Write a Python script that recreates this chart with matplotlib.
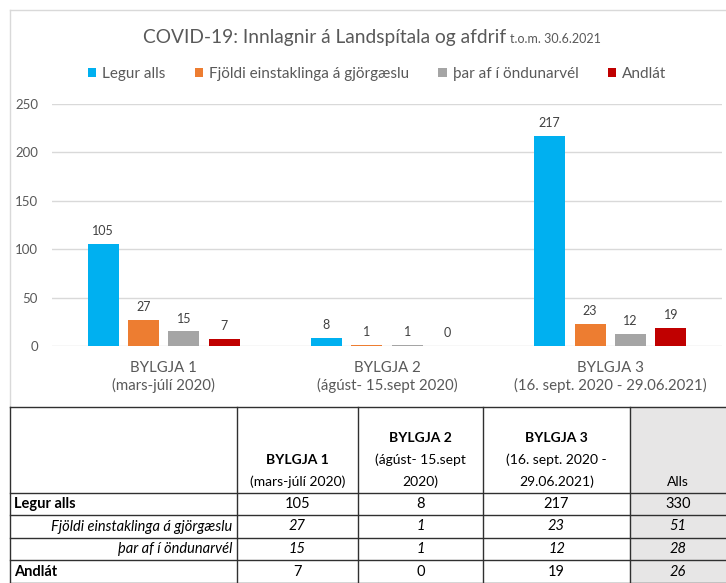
import matplotlib.pyplot as plt
import numpy as np
from matplotlib.patches import Rectangle

plt.rcParams['font.family'] = ['Lato', 'DejaVu Sans']

# Gögn
bylgjur = ['BYLGJA 1\n(mars-júlí 2020)',
           'BYLGJA 2\n(ágúst- 15.sept 2020)',
           'BYLGJA 3\n(16. sept. 2020 - 29.06.2021)']
legur = [105, 8, 217]
gjorgaesla = [27, 1, 23]
ondunarvel = [15, 1, 12]
andlat = [7, 0, 19]

heiti = ['Legur alls', 'Fjöldi einstaklinga á gjörgæslu', 'þar af í öndunarvél', 'Andlát']
litir = ['#00b0f0', '#ed7d31', '#a5a5a5', '#c00000']

tafla_haus = ['', 'BYLGJA 1\n(mars-júlí 2020)', 'BYLGJA 2\n(ágúst- 15.sept\n2020)',
              'BYLGJA 3\n(16. sept. 2020 -\n29.06.2021)', 'Alls']

W, H = 726, 583
fig = plt.figure(figsize=(W / 100, H / 100), dpi=100)

# yfirlag í pixlahnitum fyrir ramma, titil og töflu
ov = fig.add_axes([0, 0, 1, 1], zorder=-1)
ov.set_xlim(0, W)
ov.set_ylim(H, 0)
ov.axis('off')

# súlurit
ax = fig.add_axes([52 / W, (H - 346) / H, 670 / W, 242 / H])
x = np.arange(len(bylgjur))
raðir = [legur, gjorgaesla, ondunarvel, andlat]
breidd = 0.139
for i, (gildi, nafn, lit) in enumerate(zip(raðir, heiti, litir)):
    b = ax.bar(x + (i - 1.5) * 0.181, gildi, breidd, color=lit, label=nafn, zorder=3)
    ax.bar_label(b, padding=5, fontsize=9, color='#404040')

ax.set_xlim(-0.5, 2.5)
ax.set_ylim(0, 250)
ax.set_yticks(np.arange(0, 251, 50))
ax.set_xticks(x, bylgjur)
ax.grid(axis='y', color='#d9d9d9', lw=1, zorder=0)
for s in ax.spines.values():
    s.set_visible(False)
ax.tick_params(length=0, colors='#595959')
ax.tick_params(axis='y', pad=10, labelsize=9.5)
ax.tick_params(axis='x', pad=11, labelsize=10.8)
for t in ax.get_xticklabels():
    t.set_linespacing(1.25)

# rammi um myndina
ov.plot([10, 10], [10, 407], color='#d9d9d9', lw=1)
ov.plot([10, W], [10, 10], color='#d9d9d9', lw=1)

# titill
ov.text(143, 43, 'COVID-19: Innlagnir á Landspítala og afdrif', fontsize=13.8,
        color='#595959', va='baseline', ha='left')
ov.text(510, 43, 't.o.m. 30.6.2021', fontsize=9, color='#595959', va='baseline', ha='left')

h, l = ax.get_legend_handles_labels()
fig.legend(h, l, loc='center', bbox_to_anchor=(377 / W, 1 - 74 / H), ncol=4, frameon=False,
           fontsize=11, handlelength=0.55, handleheight=0.55, handletextpad=0.4,
           columnspacing=1.9, labelcolor='#595959')

# tafla
dalkar = [10, 237, 358, 483, 630, W]
linur = [407, 493, 515, 538, 560, H]
ov.add_patch(Rectangle((dalkar[4], linur[0]), W - dalkar[4], H - linur[0], color='#e7e6e6', zorder=0))
for y in linur:
    ov.plot([dalkar[0], W], [y, y], color='#303030', lw=1, zorder=2)
for xx in dalkar[:-1]:
    ov.plot([xx, xx], [linur[0], H], color='#303030', lw=1, zorder=2)

for j, haus in enumerate(tafla_haus):
    if not haus:
        continue
    cx = (dalkar[j] + dalkar[j + 1]) / 2
    lin = haus.split('\n')
    for k, txt in enumerate(reversed(lin)):
        feitt = txt.startswith('BYLGJA')
        ov.text(cx, linur[1] - 11 - 22 * k, txt, ha='center', va='center', fontsize=10,
                fontweight='bold' if feitt else 'normal', color='black')

for i, (gildi, nafn) in enumerate(zip(raðir, heiti)):
    cy = (linur[i + 1] + linur[i + 2]) / 2
    skaletrad = i in (1, 2)
    if skaletrad:
        ov.text(dalkar[1] - 5, cy, nafn, ha='right', va='center', fontsize=10.5, style='italic')
    else:
        ov.text(dalkar[0] + 4, cy, nafn, ha='left', va='center', fontsize=10.5, fontweight='bold')
    for j, v in enumerate(gildi):
        cx = (dalkar[j + 1] + dalkar[j + 2]) / 2
        ov.text(cx, cy, str(v), ha='center', va='center', fontsize=10.5,
                style='italic' if skaletrad else 'normal')
    ov.text((dalkar[4] + dalkar[5]) / 2, cy, str(sum(gildi)), ha='center', va='center',
            fontsize=10.5, style='italic' if i > 0 else 'normal')

fig.savefig('out.png', dpi=100)
